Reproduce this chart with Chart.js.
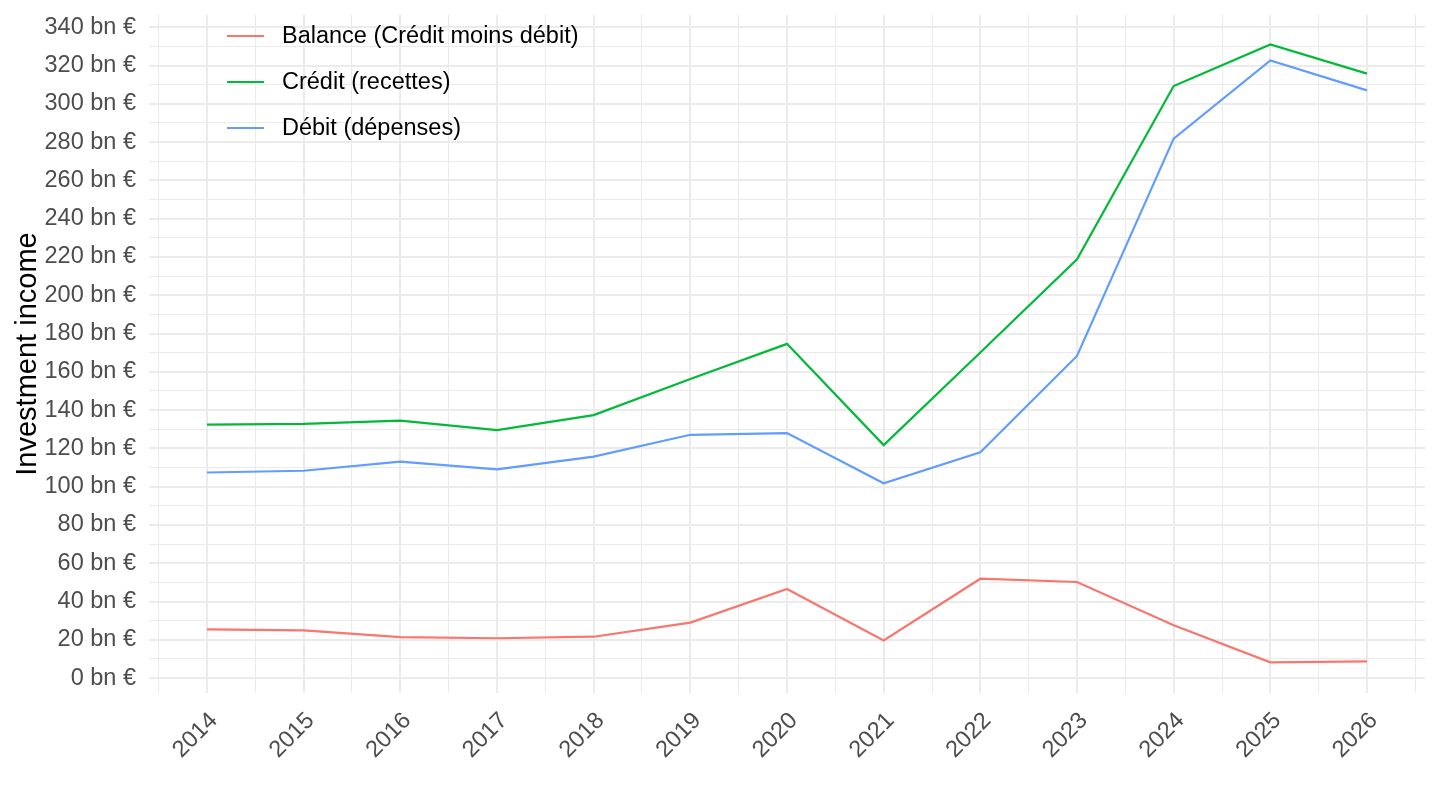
<!DOCTYPE html>
<html lang="fr">
<head>
<meta charset="utf-8">
<title>Investment income</title>
<script src="https://cdn.jsdelivr.net/npm/chart.js@4/dist/chart.umd.min.js"></script>
<style>
  html, body { margin: 0; padding: 0; background: #fff; }
  #wrap { width: 1440px; height: 810px; position: relative; }
</style>
</head>
<body>
<div id="wrap"><canvas id="incomeChart"></canvas></div>
<script>
// Données (milliards d'euros)
const years = [2014, 2015, 2016, 2017, 2018, 2019, 2020, 2021, 2022, 2023, 2024, 2025, 2026];
const balance = [25.4, 24.9, 21.4, 20.8, 21.6, 29.0, 46.5, 19.7, 51.9, 50.2, 27.6, 8.2, 8.7];
const credit = [132.4, 132.8, 134.5, 129.5, 137.4, 156.2, 174.6, 121.7, 170.1, 218.8, 309.3, 331.0, 315.8];
const debit = [107.4, 108.3, 113.1, 109.0, 115.7, 127.1, 128.0, 101.8, 117.9, 168.3, 281.8, 322.7, 307.0];

const seriesNames = ['Balance (Crédit moins débit)', 'Crédit (recettes)', 'Débit (dépenses)'];
const seriesColors = ['#F8766D', '#00BA38', '#619CFF'];

// graduations : principales tous les 20, secondaires tous les 10
const yTicks = [0, 20, 40, 60, 80, 100, 120, 140, 160, 180, 200, 220, 240, 260, 280, 300, 320, 340];
const yTickSuffix = ' bn €';

const FONT = '"Liberation Sans", Arial, Helvetica, sans-serif';
const GRID = '#EBEBEB';

function toPoints(values) {
  return values.map((v, i) => ({ x: years[i], y: v }));
}

// légende dessinée dans la zone du graphique (comme ggplot)
const insideLegend = {
  id: 'insideLegend',
  afterDraw(chart) {
    const ctx = chart.ctx;
    ctx.save();
    ctx.font = '23.5px ' + FONT;
    ctx.textBaseline = 'middle';
    ctx.textAlign = 'left';
    chart.data.datasets.forEach((ds, i) => {
      const y = 36 + i * 46;
      ctx.strokeStyle = ds.borderColor;
      ctx.lineWidth = 2.2;
      ctx.beginPath();
      ctx.moveTo(227, y);
      ctx.lineTo(264, y);
      ctx.stroke();
      ctx.fillStyle = '#000';
      ctx.fillText(ds.label, 282, y + 1);
    });
    ctx.restore();
  }
};

const ctx = document.getElementById('incomeChart').getContext('2d');

new Chart(ctx, {
  type: 'line',
  data: {
    datasets: [
      { label: seriesNames[0], data: toPoints(balance), borderColor: seriesColors[0] },
      { label: seriesNames[1], data: toPoints(credit), borderColor: seriesColors[1] },
      { label: seriesNames[2], data: toPoints(debit), borderColor: seriesColors[2] }
    ]
  },
  options: {
    responsive: true,
    maintainAspectRatio: false,
    animation: false,
    layout: { padding: { top: 15, right: 15, bottom: 0, left: 0 } },
    elements: {
      line: { borderWidth: 2.2, tension: 0, fill: false },
      point: { radius: 0, hoverRadius: 0 }
    },
    plugins: {
      legend: { display: false },
      tooltip: { enabled: false }
    },
    scales: {
      x: {
        type: 'linear',
        min: 2013.4,
        max: 2026.6,
        afterBuildTicks(scale) {
          const t = [];
          for (let v = years[0] - 0.5; v <= years[years.length - 1] + 0.5; v += 0.5) t.push({ value: v });
          scale.ticks = t;
        },
        afterFit(scale) {
          scale.height = 117;
          scale.paddingLeft = 0;
          scale.paddingRight = 0;
        },
        border: { display: false },
        grid: {
          color: GRID,
          drawTicks: false,
          lineWidth: c => (c.tick && Number.isInteger(c.tick.value)) ? 2 : 1
        },
        ticks: {
          autoSkip: false,
          minRotation: 45,
          maxRotation: 45,
          padding: 14,
          labelOffset: 7,
          color: '#4D4D4D',
          font: { family: FONT, size: 23.5 },
          callback: v => Number.isInteger(v) ? String(v) : ''
        }
      },
      y: {
        min: -7.8,
        max: 346.4,
        afterBuildTicks(scale) {
          const t = [];
          for (let v = 0; v <= yTicks[yTicks.length - 1]; v += 10) t.push({ value: v });
          scale.ticks = t;
        },
        afterFit(scale) {
          scale.width = 149;
          scale.paddingTop = 0;
          scale.paddingBottom = 0;
        },
        border: { display: false },
        grid: {
          color: GRID,
          drawTicks: false,
          lineWidth: c => (c.tick && yTicks.includes(c.tick.value)) ? 2 : 1
        },
        title: {
          display: true,
          text: 'Investment income',
          color: '#000',
          font: { family: FONT, size: 29 },
          padding: { top: 11, bottom: 0 }
        },
        ticks: {
          autoSkip: false,
          padding: 13,
          color: '#4D4D4D',
          font: { family: FONT, size: 23.5 },
          callback: v => yTicks.includes(v) ? v + yTickSuffix : ''
        }
      }
    }
  },
  plugins: [insideLegend]
});
</script>
</body>
</html>
